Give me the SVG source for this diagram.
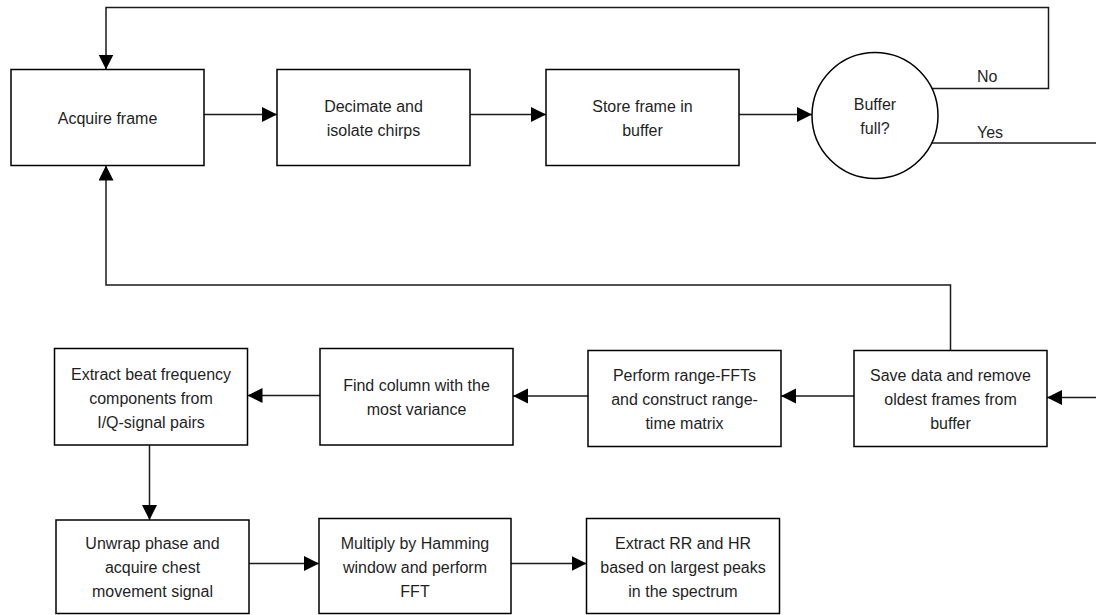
<svg xmlns="http://www.w3.org/2000/svg" width="1096" height="615" viewBox="0 0 1096 615">
  <defs>
    <marker id="arrow" markerUnits="userSpaceOnUse" markerWidth="16" markerHeight="16" refX="15" refY="7.5" orient="auto">
      <path d="M0,0 L15,7.5 L0,15 Z" fill="#000"/>
    </marker>
    <style>
      .box { fill: #fff; stroke: #000; stroke-width: 1.5; }
      .conn { fill: none; stroke: #1a1a1a; stroke-width: 1.5; }
      .arr { marker-end: url(#arrow); }
      text { font-family: "Liberation Sans", Arial, sans-serif; font-size: 16px; fill: #1f1f1f; text-anchor: middle; }
      .lbl { text-anchor: start; }
    </style>
  </defs>
  <rect width="1096" height="615" fill="#fff"/>

  <g id="connectors">
    <!-- No branch loop back to Acquire frame -->
    <path class="conn arr" d="M932,88.5 H1048.5 V7.5 H106 V69.5"/>
    <!-- Yes branch going right -->
    <path class="conn" d="M932,143 H1096"/>
    <!-- Save back to Acquire frame -->
    <path class="conn arr" d="M950.5,350.5 V285 H106 V165.5"/>
    <!-- top row -->
    <path class="conn arr" d="M204,114.5 H277"/>
    <path class="conn arr" d="M470,114.5 H546"/>
    <path class="conn arr" d="M739,114.5 H812"/>
    <!-- second row -->
    <path class="conn arr" d="M1096,397.5 H1047"/>
    <path class="conn arr" d="M854,396 H781"/>
    <path class="conn arr" d="M588,396 H513"/>
    <path class="conn arr" d="M320,395.5 H247.5"/>
    <!-- down -->
    <path class="conn arr" d="M149.5,445 V520"/>
    <!-- third row -->
    <path class="conn arr" d="M249,563.5 H319"/>
    <path class="conn arr" d="M511,563.5 H586.5"/>
  </g>

  <g id="acquire-frame">
    <rect class="box" x="11" y="69.5" width="193" height="96"/>
    <text x="107.5" y="123.5">Acquire frame</text>
  </g>

  <g id="decimate">
    <rect class="box" x="277" y="69.5" width="193" height="96"/>
    <text x="373.5" y="111.5">Decimate and</text>
    <text x="373.5" y="135.5">isolate chirps</text>
  </g>

  <g id="store-frame">
    <rect class="box" x="546" y="69.5" width="193" height="96"/>
    <text x="642.5" y="111.5">Store frame in</text>
    <text x="642.5" y="135.5">buffer</text>
  </g>

  <g id="buffer-full">
    <circle class="box" cx="875" cy="115.5" r="63"/>
    <text x="875" y="109.5">Buffer</text>
    <text x="875" y="133.5">full?</text>
  </g>

  <g id="labels">
    <text class="lbl" x="977" y="82">No</text>
    <text class="lbl" x="977" y="137.5">Yes</text>
  </g>

  <g id="save-data">
    <rect class="box" x="854" y="350.5" width="193" height="96"/>
    <text x="950.5" y="380.5">Save data and remove</text>
    <text x="950.5" y="404.5">oldest frames from</text>
    <text x="950.5" y="428.5">buffer</text>
  </g>

  <g id="range-fft">
    <rect class="box" x="588" y="350.5" width="193" height="96"/>
    <text x="684.5" y="380.5">Perform range-FFTs</text>
    <text x="684.5" y="404.5">and construct range-</text>
    <text x="684.5" y="428.5">time matrix</text>
  </g>

  <g id="find-column">
    <rect class="box" x="320" y="348.5" width="193" height="96.5"/>
    <text x="416.5" y="390.5">Find column with the</text>
    <text x="416.5" y="414.5">most variance</text>
  </g>

  <g id="extract-beat">
    <rect class="box" x="54.5" y="348.5" width="193" height="96.5"/>
    <text x="151" y="379.5">Extract beat frequency</text>
    <text x="151" y="403.5">components from</text>
    <text x="151" y="427.5">I/Q-signal pairs</text>
  </g>

  <g id="unwrap-phase">
    <rect class="box" x="56" y="520" width="193" height="93.5"/>
    <text x="152.5" y="548.5">Unwrap phase and</text>
    <text x="152.5" y="572.5">acquire chest</text>
    <text x="152.5" y="596.5">movement signal</text>
  </g>

  <g id="hamming-fft">
    <rect class="box" x="319" y="518.5" width="192" height="95"/>
    <text x="415" y="548.5">Multiply by Hamming</text>
    <text x="415" y="572.5">window and perform</text>
    <text x="415" y="596.5">FFT</text>
  </g>

  <g id="extract-rr-hr">
    <rect class="box" x="586.5" y="518.5" width="193" height="95"/>
    <text x="683" y="548.5">Extract RR and HR</text>
    <text x="683" y="572.5">based on largest peaks</text>
    <text x="683" y="596.5">in the spectrum</text>
  </g>
</svg>
